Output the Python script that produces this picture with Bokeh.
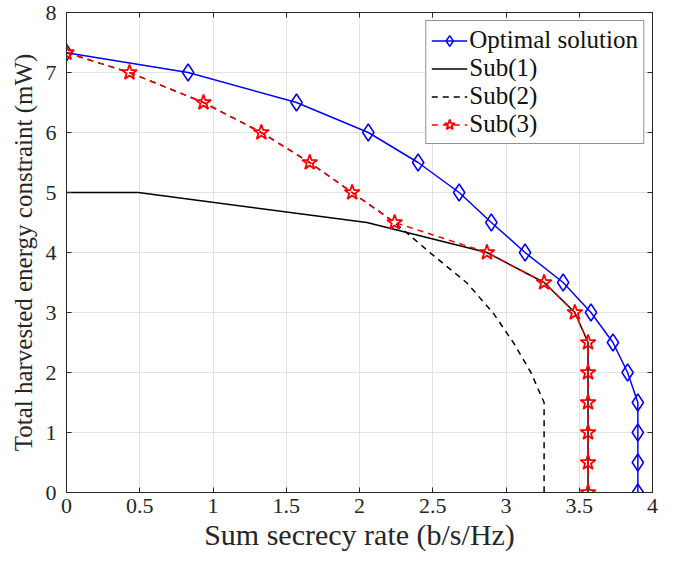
from bokeh.plotting import figure
from bokeh.models import FixedTicker, LinearAxis, Legend, LegendItem, Range1d
from bokeh.embed import file_html
from bokeh.resources import INLINE

y_levels = [7.33, 7.0, 6.5, 6.0, 5.5, 5.0, 4.5, 4.0, 3.5, 3.0, 2.5, 2.0, 1.5, 1.0, 0.5, 0.0]
opt_x = [0.0, 0.83, 1.57, 2.06, 2.40, 2.68, 2.90, 3.13, 3.39, 3.58, 3.73, 3.83, 3.90, 3.90, 3.90, 3.90]

sub1_x = [0.0, 0.49, 2.05, 2.87, 3.26, 3.47, 3.56, 3.56, 3.56, 3.56, 3.56, 3.56]
sub1_y = [5.0, 5.0, 4.5, 4.0, 3.5, 3.0, 2.5, 2.0, 1.5, 1.0, 0.5, 0.0]

sub2_x = [0.0, 0.43, 0.935, 1.33, 1.66, 1.95, 2.24, 2.48, 2.73, 2.91, 3.05, 3.17, 3.26, 3.26, 3.26, 3.26]
sub2_y = y_levels

sub3_x = [0.0, 0.43, 0.935, 1.33, 1.66, 1.95, 2.24, 2.87, 3.26, 3.47, 3.56, 3.56, 3.56, 3.56, 3.56, 3.56]
sub3_y = y_levels

x_ticks = [0, 0.5, 1, 1.5, 2, 2.5, 3, 3.5, 4]
x_tick_labels = ["0", "0.5", "1", "1.5", "2", "2.5", "3", "3.5", "4"]
y_ticks = [0, 1, 2, 3, 4, 5, 6, 7, 8]

FONT = "Liberation Serif"
AX = "#262626"

p = figure(width=680, height=563, output_backend="svg", toolbar_location=None,
           x_range=Range1d(0, 4), y_range=Range1d(0, 8),
           min_border_left=66, min_border_right=28, min_border_top=12, min_border_bottom=71)
p.outline_line_color = AX
p.outline_line_width = 1
p.background_fill_color = "white"

for ax in [p.xaxis[0], p.yaxis[0]]:
    ax.major_tick_in = 5
    ax.major_tick_out = 0
    ax.minor_tick_line_color = None
    ax.axis_line_color = AX
    ax.major_tick_line_color = AX
    ax.major_label_text_font = FONT
    ax.major_label_text_font_size = "22px"
    ax.major_label_text_color = AX
    ax.axis_label_text_font = FONT
    ax.axis_label_text_font_style = "normal"
    ax.axis_label_text_color = AX

p.xaxis.axis_label_text_font_size = "30px"
p.yaxis.axis_label_text_font_size = "25px"
p.xaxis.ticker = FixedTicker(ticks=x_ticks)
p.xaxis.major_label_overrides = {t: l for t, l in zip(x_ticks, x_tick_labels)}
p.yaxis.ticker = FixedTicker(ticks=y_ticks)
p.xaxis.axis_label = "Sum secrecy rate (b/s/Hz)"
p.yaxis.axis_label = "Total harvested energy constraint (mW)"
p.xaxis.axis_label_standoff = 2
p.yaxis.axis_label_standoff = 6
p.xaxis.major_label_standoff = 6
p.yaxis.major_label_standoff = 10

top = LinearAxis(ticker=FixedTicker(ticks=x_ticks), major_tick_in=5, major_tick_out=0,
                 minor_tick_line_color=None, axis_line_color=AX, major_tick_line_color=AX,
                 major_label_overrides={t: "" for t in x_ticks})
right = LinearAxis(ticker=FixedTicker(ticks=y_ticks), major_tick_in=5, major_tick_out=0,
                   minor_tick_line_color=None, axis_line_color=AX, major_tick_line_color=AX,
                   major_label_overrides={t: "" for t in y_ticks})
p.add_layout(top, "above")
p.add_layout(right, "right")

p.grid.grid_line_color = "#e3e3e3"
p.grid.grid_line_width = 1
p.xgrid.ticker = FixedTicker(ticks=x_ticks)
p.ygrid.ticker = FixedTicker(ticks=y_ticks)

l_opt = p.line(opt_x, y_levels, line_color="#0000ff", line_width=1.5)
m_opt = p.scatter(opt_x, y_levels, marker="diamond", size=17, line_color="#0000ff",
                  fill_color=None, line_width=1.5)
l_s1 = p.line(sub1_x, sub1_y, line_color="black", line_width=1.5)
l_s2 = p.line(sub2_x, sub2_y, line_color="black", line_width=1.5, line_dash="6 5")
l_s3 = p.line(sub3_x, sub3_y, line_color="red", line_width=1.5, line_dash="6 5")
m_s3 = p.scatter(sub3_x, sub3_y, marker="star", size=16, line_color="red",
                 fill_color=None, line_width=1.8)

legend = Legend(items=[
    LegendItem(label="Optimal solution", renderers=[l_opt, m_opt]),
    LegendItem(label="Sub(1)", renderers=[l_s1]),
    LegendItem(label="Sub(2)", renderers=[l_s2]),
    LegendItem(label="Sub(3)", renderers=[l_s3, m_s3]),
], location="top_right")
legend.label_text_font = FONT
legend.label_text_font_size = "25px"
legend.label_text_color = "#111111"
legend.glyph_width = 36
legend.glyph_height = 27
legend.label_height = 27
legend.spacing = 0
legend.padding = 5
legend.margin = 8
legend.label_standoff = 2
legend.border_line_color = AX
legend.border_line_width = 1
legend.background_fill_alpha = 1
p.add_layout(legend)

open("out.html", "w").write(file_html(p, INLINE))
